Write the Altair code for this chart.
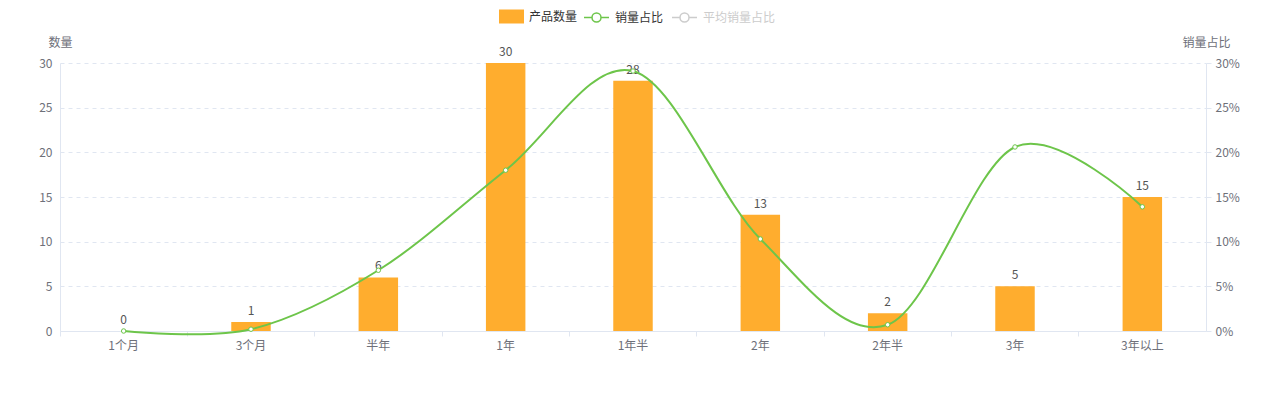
import altair as alt
import pandas as pd

categories = ["1个月", "3个月", "半年", "1年", "1年半", "2年", "2年半", "3年", "3年以上"]
counts = [0, 1, 6, 30, 28, 13, 2, 5, 15]
shares = [0.0, 0.002, 0.068, 0.180, 0.291, 0.103, 0.007, 0.206, 0.139]

df = pd.DataFrame({
    "cat": categories,
    "count": counts,
    "share": shares,
    "s1": ["产品数量"] * len(categories),
    "s2": ["销量占比"] * len(categories),
})

FONT = "Noto Sans CJK SC"
ORANGE = "#FFAD2E"
GREEN = "#6DC54A"
GRID = "#E0E6F1"
LABEL = "#6E7079"

x = alt.X("cat:N", sort=categories, title=None,
          axis=alt.Axis(labelAngle=0, labelColor=LABEL, labelFontSize=12, labelPadding=4,
                        tickSize=5, tickColor=GRID, domainColor=GRID, bandPosition=0,
                        labelFont=FONT),
          scale=alt.Scale(paddingInner=0, paddingOuter=0))

y_left = alt.Y("count:Q", scale=alt.Scale(domain=[0, 30]),
               axis=alt.Axis(title="数量", titleAngle=0, titleX=0, titleY=-14, titleAlign="center",
                             titleBaseline="bottom", titleFontWeight="normal", titleColor=LABEL,
                             titleFontSize=12, titleFont=FONT,
                             values=[0, 5, 10, 15, 20, 25, 30], labelColor=LABEL, labelFontSize=12,
                             labelPadding=8, ticks=False, domainColor=GRID,
                             grid=True, gridColor=GRID, gridDash=[4, 4], labelFont=FONT))

y_right = alt.Y("share:Q", scale=alt.Scale(domain=[0, 0.3]),
                axis=alt.Axis(title="销量占比", orient="right", titleAngle=0, titleX=0, titleY=-14,
                              titleAlign="center", titleBaseline="bottom", titleFontWeight="normal",
                              titleColor=LABEL, titleFontSize=12, titleFont=FONT,
                              values=[0, 0.05, 0.1, 0.15, 0.2, 0.25, 0.3], format=".0%",
                              labelColor=LABEL, labelFontSize=12, labelPadding=4,
                              tickSize=5, tickColor=GRID, domainColor=GRID, grid=False,
                              labelFont=FONT))

bar = alt.Chart(df).mark_bar(width={"band": 0.31}).encode(
    x=x,
    y=y_left,
    color=alt.Color("s1:N", scale=alt.Scale(domain=["产品数量"], range=[ORANGE]),
                    legend=alt.Legend(title=None, orient="none", legendX=439, legendY=-59,
                                      direction="horizontal",
                                      symbolType="M-1,-0.56 L1,-0.56 L1,0.56 L-1,0.56 Z",
                                      symbolSize=625, symbolStrokeWidth=0,
                                      labelFontSize=12, labelColor="#333333", labelOffset=5,
                                      labelFont=FONT)),
)

text = alt.Chart(df).mark_text(baseline="bottom", dy=-4, fontSize=12, color="#555555", font=FONT).encode(
    x=x,
    y=y_left,
    text=alt.Text("count:Q"),
)

line = alt.Chart(df).mark_line(interpolate="cardinal", strokeWidth=2).encode(
    x=x,
    y=y_right,
    stroke=alt.Stroke("s2:N", scale=alt.Scale(domain=["销量占比", "平均销量占比"], range=[GREEN, "#cccccc"]),
                      legend=alt.Legend(title=None, orient="none", legendX=523, legendY=-59,
                                        direction="horizontal",
                                        symbolType="M-1,0 L-0.36,0 M0.36,0 L1,0 M-0.36,0 A0.36,0.36 0 1,0 0.36,0 A0.36,0.36 0 1,0 -0.36,0",
                                        symbolSize=625, symbolStrokeWidth=1.5,
                                        labelFontSize=12, labelOffset=5, columnPadding=5,
                                        labelColor={"expr": "datum.label === '平均销量占比' ? '#cccccc' : '#333333'"},
                                        labelFont=FONT)),
)

points = alt.Chart(df).mark_point(filled=True, fill="white", stroke=GREEN, strokeWidth=1, size=20, opacity=1).encode(
    x=x,
    y=y_right,
)

chart = alt.layer(
    alt.layer(bar, text),
    alt.layer(line, points),
).resolve_scale(y="independent", color="independent").properties(
    width=1146, height=268,
    autosize=alt.AutoSizeParams(type="none"),
    padding={"left": 52, "top": 55, "right": 56, "bottom": 54},
).configure(font=FONT).configure_view(stroke=None)

chart.save("out.html", embed_options={"renderer": "svg", "actions": False})
